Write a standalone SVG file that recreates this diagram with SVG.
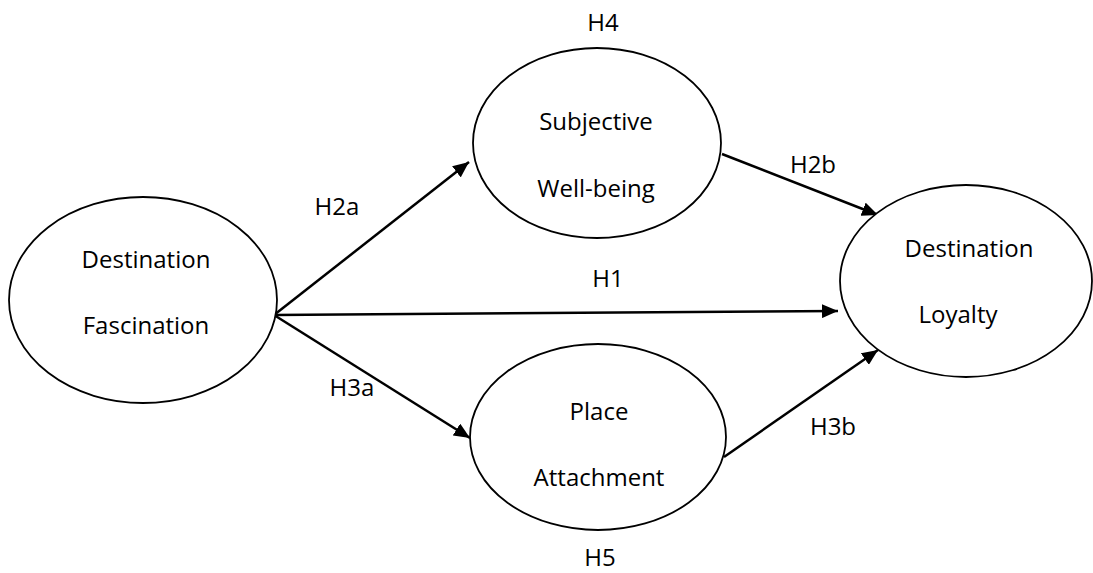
<svg xmlns="http://www.w3.org/2000/svg" width="1093" height="573" viewBox="0 0 1093 573">
  <style>
    .node { fill: #ffffff; stroke: #000000; stroke-width: 1.8; }
    .lbl { font-family: "Open Sans", "Liberation Sans", sans-serif; font-size: 24px; fill: #000000; text-anchor: middle; }
    .edge { stroke: #000000; stroke-width: 2.5; fill: none; marker-end: url(#arrow); }
  </style>
  <defs>
    <marker id="arrow" markerUnits="userSpaceOnUse" markerWidth="18" markerHeight="14" refX="16" refY="7" orient="auto">
      <path d="M0,0 L16,7 L0,14 Z" fill="#000000"/>
    </marker>
  </defs>
  <rect width="1093" height="573" fill="#ffffff"/>

  <g id="connectors">
    <line class="edge" x1="274" y1="315" x2="469" y2="162"/>
    <line class="edge" x1="274" y1="315" x2="838" y2="311"/>
    <line class="edge" x1="274" y1="315" x2="470" y2="438"/>
    <line class="edge" x1="722" y1="154" x2="878" y2="215"/>
    <line class="edge" x1="724" y1="457" x2="878" y2="350"/>
    <text class="lbl" x="337" y="215">H2a</text>
    <text class="lbl" x="813" y="173">H2b</text>
    <text class="lbl" x="608" y="287">H1</text>
    <text class="lbl" x="352" y="396">H3a</text>
    <text class="lbl" x="833" y="435">H3b</text>
  </g>

  <g id="destination-fascination">
    <ellipse class="node" cx="143" cy="300" rx="134" ry="103"/>
    <text class="lbl" x="146" y="268">Destination</text>
    <text class="lbl" x="146" y="334">Fascination</text>
  </g>

  <g id="subjective-wellbeing">
    <ellipse class="node" cx="597" cy="143" rx="124" ry="95"/>
    <text class="lbl" x="603" y="31">H4</text>
    <text class="lbl" x="596" y="130">Subjective</text>
    <text class="lbl" x="596" y="197">Well-being</text>
  </g>

  <g id="place-attachment">
    <ellipse class="node" cx="598" cy="437" rx="128" ry="93"/>
    <text class="lbl" x="599" y="420">Place</text>
    <text class="lbl" x="599" y="486">Attachment</text>
    <text class="lbl" x="600" y="566">H5</text>
  </g>

  <g id="destination-loyalty">
    <ellipse class="node" cx="966" cy="281" rx="126" ry="96"/>
    <text class="lbl" x="969" y="257">Destination</text>
    <text class="lbl" x="958" y="323">Loyalty</text>
  </g>
</svg>
